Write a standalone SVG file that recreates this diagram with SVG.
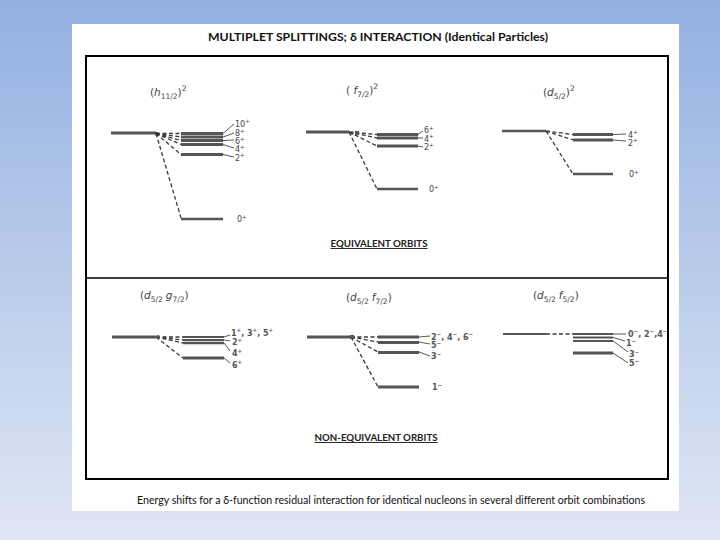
<svg xmlns="http://www.w3.org/2000/svg" width="720" height="540" viewBox="0 0 720 540">
<defs>
<linearGradient id="bg" x1="0" y1="0" x2="0" y2="1">
<stop offset="0" stop-color="#93b0e1"/>
<stop offset="1" stop-color="#dfe6f3"/>
</linearGradient>
<style>
.lvl{stroke:#555;stroke-width:3}
.lvl0{stroke:#555;stroke-width:2.5}
.dash{stroke:#3a3a3a;stroke-width:1.3;stroke-dasharray:4 2.5;fill:none}
.lead{stroke:#444;stroke-width:0.9;fill:none}
.lab{font-family:"DejaVu Sans",sans-serif;font-size:8px;fill:#444}
.labb{font-family:"DejaVu Sans",sans-serif;font-size:8px;fill:#555;font-weight:bold}
.ttl{font-family:"DejaVu Sans",sans-serif;font-size:10.5px;fill:#444}
.sec{font-family:Lato,"Liberation Sans",sans-serif;font-size:9.5px;font-weight:bold;fill:#222;text-decoration:underline}
</style>
</defs>
<rect x="0" y="0" width="720" height="540" fill="url(#bg)"/>
<rect x="72" y="24" width="607" height="487" fill="#fff"/>
<text x="378" y="41" text-anchor="middle" font-family="Lato,'Liberation Sans',sans-serif" font-size="12" font-weight="bold" fill="#111" textLength="340" lengthAdjust="spacingAndGlyphs">MULTIPLET SPLITTINGS; δ INTERACTION (Identical Particles)</text>
<rect x="86" y="56" width="582" height="423" fill="none" stroke="#000" stroke-width="2"/>
<line x1="86" y1="278" x2="668" y2="278" stroke="#000" stroke-width="1.5"/>
<text class="sec" x="379" y="247" text-anchor="middle" textLength="97" lengthAdjust="spacingAndGlyphs">EQUIVALENT ORBITS</text>
<text class="sec" x="376" y="441" text-anchor="middle" textLength="123" lengthAdjust="spacingAndGlyphs">NON-EQUIVALENT ORBITS</text>
<text x="391" y="504" text-anchor="middle" font-family="Lato,'Liberation Sans',sans-serif" font-size="10.5" fill="#111" textLength="508" lengthAdjust="spacingAndGlyphs">Energy shifts for a δ-function residual interaction for identical nucleons in several different orbit combinations</text>

<g id="connectors">
<path class="dash" d="M156 133.5L181 133.5M156 133.5L181 137M156 133.5L181 140.5M156 133.5L181 144.5M156 133.5L181 154.5M156 133.5L181 218"/>
<path class="lead" d="M223 133.5L234 124M223 137L234 133M223 140.5L234 140M223 144.5L234 148M223 154.5L234 157"/>
<path class="dash" d="M349 132L377 134.5M349 132L377 138M349 132L377 146M349 132L377 189"/>
<path class="lead" d="M418 134.5L423 131M418 138L423 138M418 146L423 147"/>
<path class="dash" d="M546 131L573 134.5M546 131L573 140M546 131L573 174"/>
<path class="lead" d="M613 134.5L626 134M613 140L626 141"/>
<path class="dash" d="M156 337L183 337M156 337L183 340M156 337L183 343M156 337L183 358"/>
<path class="lead" d="M224 337L230 335M224 340L230 341M224 343L230 351M224 358L230 363"/>
<path class="dash" d="M351 337L378 337M351 337L378 342M351 337L378 352M351 337L378 387"/>
<path class="lead" d="M419 337L430 336M419 342L430 344M419 352L430 356"/>
<path class="dash" d="M546 334L573 334"/>
<path class="lead" d="M613 334L626 334M613 337.5L625 341M613 341L628 352M613 353L628 363"/>
</g>

<g id="p1-h11">
<text class="ttl" x="150" y="96">(<tspan font-style="italic">h</tspan><tspan font-size="7.5" dy="3">11/2</tspan><tspan dy="-3">)</tspan><tspan font-size="7.5" dy="-5">2</tspan></text>
<line class="lvl" x1="111" y1="133" x2="156" y2="133"/>
<circle cx="157" cy="134" r="2" fill="#333"/>
<line class="lvl" x1="181" y1="133.5" x2="223" y2="133.5"/>
<line class="lvl" x1="181" y1="137" x2="223" y2="137"/>
<line class="lvl" x1="181" y1="140.5" x2="223" y2="140.5"/>
<line class="lvl" x1="181" y1="144.5" x2="223" y2="144.5"/>
<line class="lvl" x1="181" y1="154.5" x2="223" y2="154.5"/>
<line class="lvl0" x1="181" y1="219" x2="223" y2="219"/>
<text class="lab" x="235" y="126.5">10<tspan font-size="5.5" dy="-3.5">+</tspan></text>
<text class="lab" x="235" y="136">8<tspan font-size="5.5" dy="-3.5">+</tspan></text>
<text class="lab" x="235" y="144">6<tspan font-size="5.5" dy="-3.5">+</tspan></text>
<text class="lab" x="235" y="152">4<tspan font-size="5.5" dy="-3.5">+</tspan></text>
<text class="lab" x="235" y="160.5">2<tspan font-size="5.5" dy="-3.5">+</tspan></text>
<text class="lab" x="237" y="222">0<tspan font-size="5.5" dy="-3.5">+</tspan></text>
</g>

<g id="p2-f72">
<text class="ttl" x="346" y="94">( <tspan font-style="italic">f</tspan><tspan font-size="7.5" dy="3">7/2</tspan><tspan dy="-3">)</tspan><tspan font-size="7.5" dy="-5">2</tspan></text>
<line class="lvl" x1="306" y1="132" x2="349" y2="132"/>
<circle cx="352" cy="133" r="1.8" fill="#444"/>
<rect x="355" y="131" width="4" height="4" fill="#555"/>
<line class="lvl" x1="377" y1="134.5" x2="418" y2="134.5"/>
<line class="lvl" x1="377" y1="138" x2="418" y2="138"/>
<line class="lvl" x1="377" y1="146" x2="418" y2="146"/>
<line class="lvl0" x1="377" y1="189" x2="418" y2="189"/>
<text class="lab" x="424" y="133">6<tspan font-size="5.5" dy="-3.5">+</tspan></text>
<text class="lab" x="424" y="141.5">4<tspan font-size="5.5" dy="-3.5">+</tspan></text>
<text class="lab" x="424" y="150">2<tspan font-size="5.5" dy="-3.5">+</tspan></text>
<text class="lab" x="429" y="192">0<tspan font-size="5.5" dy="-3.5">+</tspan></text>
</g>

<g id="p3-d52">
<text class="ttl" x="543" y="96">(<tspan font-style="italic">d</tspan><tspan font-size="7.5" dy="3">5/2</tspan><tspan dy="-3">)</tspan><tspan font-size="7.5" dy="-5">2</tspan></text>
<line class="lvl0" x1="502" y1="131" x2="546" y2="131"/>
<line class="lvl" x1="573" y1="134.5" x2="613" y2="134.5"/>
<line class="lvl" x1="573" y1="140" x2="613" y2="140"/>
<line class="lvl0" x1="573" y1="174" x2="613" y2="174"/>
<text class="lab" x="628" y="137.5">4<tspan font-size="5.5" dy="-3.5">+</tspan></text>
<text class="lab" x="628" y="145.5">2<tspan font-size="5.5" dy="-3.5">+</tspan></text>
<text class="lab" x="629" y="177">0<tspan font-size="5.5" dy="-3.5">+</tspan></text>
</g>

<g id="p4-d52g72">
<text class="ttl" x="140" y="299">(<tspan font-style="italic">d</tspan><tspan font-size="7.5" dy="3">5/2</tspan><tspan dx="3" dy="-3" font-style="italic">g</tspan><tspan font-size="7.5" dy="3">7/2</tspan><tspan dy="-3">)</tspan></text>
<line class="lvl" x1="112" y1="337" x2="156" y2="337"/>
<circle cx="158" cy="337" r="2" fill="#555"/>
<line class="lvl" x1="183" y1="337" x2="224" y2="337" style="stroke-width:2"/>
<line class="lvl" x1="183" y1="340" x2="224" y2="340" style="stroke-width:2"/>
<line class="lvl" x1="183" y1="343" x2="224" y2="343" style="stroke-width:2.5"/>
<line class="lvl" x1="183" y1="358" x2="224" y2="358"/>
<text class="labb" x="231" y="335.5">1<tspan font-size="5.5" dy="-3.5">+</tspan><tspan dy="3.5">, 3</tspan><tspan font-size="5.5" dy="-3.5">+</tspan><tspan dy="3.5">, 5</tspan><tspan font-size="5.5" dy="-3.5">+</tspan></text>
<text class="labb" x="232" y="345">2<tspan font-size="5.5" dy="-3.5">+</tspan></text>
<text class="labb" x="232" y="356">4<tspan font-size="5.5" dy="-3.5">+</tspan></text>
<text class="labb" x="232" y="367.5">6<tspan font-size="5.5" dy="-3.5">+</tspan></text>
</g>

<g id="p5-d52f72">
<text class="ttl" x="346" y="301">(<tspan font-style="italic">d</tspan><tspan font-size="7.5" dy="3">5/2</tspan><tspan dx="3" dy="-3" font-style="italic">f</tspan><tspan font-size="7.5" dy="3">7/2</tspan><tspan dy="-3">)</tspan></text>
<line class="lvl" x1="307" y1="337" x2="351" y2="337"/>
<rect x="350" y="335" width="4" height="4" fill="#555"/>
<line class="lvl" x1="378" y1="337" x2="419" y2="337"/>
<line class="lvl" x1="378" y1="342.5" x2="419" y2="342.5"/>
<line class="lvl" x1="378" y1="352.5" x2="419" y2="352.5"/>
<line class="lvl" x1="378" y1="387" x2="419" y2="387"/>
<text class="labb" x="431" y="339.5">2<tspan font-size="5.5" dy="-3.5">−</tspan><tspan dy="3.5">, 4</tspan><tspan font-size="5.5" dy="-3.5">−</tspan><tspan dy="3.5">, 6</tspan><tspan font-size="5.5" dy="-3.5">−</tspan></text>
<text class="labb" x="431" y="348">5<tspan font-size="5.5" dy="-3.5">−</tspan></text>
<text class="labb" x="431" y="359">3<tspan font-size="5.5" dy="-3.5">−</tspan></text>
<text class="labb" x="432" y="390">1<tspan font-size="5.5" dy="-3.5">−</tspan></text>
</g>

<g id="p6-d52f52">
<text class="ttl" x="533" y="299">(<tspan font-style="italic">d</tspan><tspan font-size="7.5" dy="3">5/2</tspan><tspan dx="3" dy="-3" font-style="italic">f</tspan><tspan font-size="7.5" dy="3">5/2</tspan><tspan dy="-3">)</tspan></text>
<line class="lvl" x1="503" y1="334" x2="546" y2="334" style="stroke-width:1.8"/>
<line class="lvl" x1="573" y1="334" x2="613" y2="334" style="stroke-width:2.2"/>
<line class="lvl" x1="573" y1="337.5" x2="613" y2="337.5" style="stroke-width:2.2"/>
<line class="lvl" x1="573" y1="341" x2="613" y2="341" style="stroke-width:2.2"/>
<line class="lvl" x1="573" y1="353" x2="613" y2="353"/>
<text class="labb" x="628" y="336.5">0<tspan font-size="5.5" dy="-3.5">−</tspan><tspan dy="3.5">, 2</tspan><tspan font-size="5.5" dy="-3.5">−</tspan><tspan dy="3.5">,4</tspan><tspan font-size="5.5" dy="-3.5">−</tspan></text>
<text class="labb" x="626" y="346">1<tspan font-size="5.5" dy="-3.5">−</tspan></text>
<text class="labb" x="629" y="357">3<tspan font-size="5.5" dy="-3.5">−</tspan></text>
<text class="labb" x="629" y="366">5<tspan font-size="5.5" dy="-3.5">−</tspan></text>
</g>
</svg>
